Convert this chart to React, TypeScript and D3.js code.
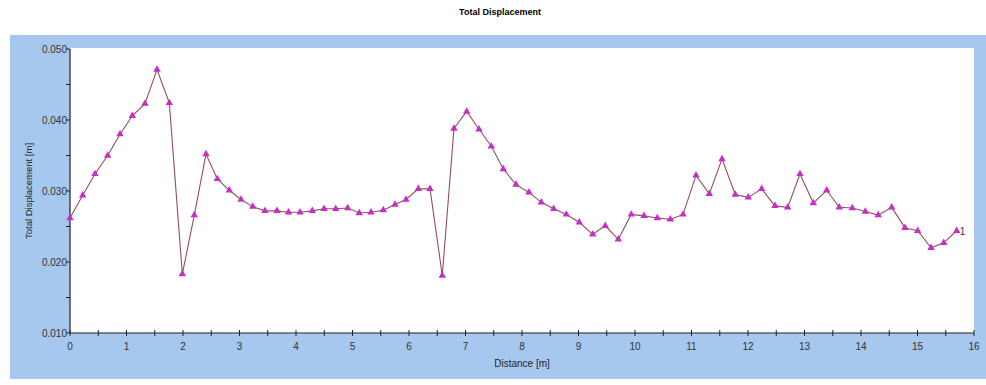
import React from "react";
import * as d3 from "d3";

// values
const distance = [
  0, 0.225, 0.442, 0.667, 0.885, 1.103, 1.327, 1.54, 1.758, 1.988,
  2.2, 2.407, 2.607, 2.82, 3.027, 3.234, 3.451, 3.664, 3.867, 4.071,
  4.288, 4.496, 4.703, 4.915, 5.12, 5.327, 5.545, 5.752, 5.947, 6.165,
  6.372, 6.589, 6.796, 7.021, 7.239, 7.457, 7.669, 7.894, 8.124, 8.342,
  8.561, 8.784, 9.014, 9.251, 9.474, 9.704, 9.934, 10.159, 10.395, 10.625,
  10.85, 11.08, 11.315, 11.54, 11.775, 12.005, 12.242, 12.478, 12.703, 12.92,
  13.156, 13.393, 13.616, 13.846, 14.076, 14.306, 14.543, 14.779, 15.004, 15.239,
  15.464, 15.694,
];
const displacement = [
  0.0262, 0.0294, 0.0324, 0.035, 0.038, 0.0406, 0.0423, 0.0471, 0.0424, 0.0183,
  0.0266, 0.0352, 0.0317, 0.0301, 0.0288, 0.0278, 0.0272, 0.0272, 0.027, 0.027,
  0.0272, 0.0275, 0.0275, 0.0276, 0.0269, 0.027, 0.0273, 0.0281, 0.0288, 0.0303,
  0.0303, 0.0181, 0.0388, 0.0412, 0.0387, 0.0363, 0.0331, 0.0309, 0.0298, 0.0284,
  0.0275, 0.0267, 0.0256, 0.0239, 0.0251, 0.0232, 0.0267, 0.0265, 0.0262, 0.026,
  0.0267, 0.0322, 0.0296, 0.0345, 0.0295, 0.0291, 0.0303, 0.0279, 0.0277, 0.0324,
  0.0283, 0.0301, 0.0277, 0.0276, 0.0271, 0.0266, 0.0277, 0.0248, 0.0244, 0.022,
  0.0227, 0.0244,
];
const xTickValues = [0, 1, 2, 3, 4, 5, 6, 7, 8, 9, 10, 11, 12, 13, 14, 15, 16];
const yTickValues = [0.01, 0.02, 0.03, 0.04, 0.05];
const seriesLabel = "1";

const W = 986;
const H = 385;
const PLOT = { left: 70, right: 974, top: 49, bottom: 333 };
const FONT = "'Liberation Sans', Arial, sans-serif";

export default function App() {
  const x = d3.scaleLinear().domain([0, 16]).range([PLOT.left, PLOT.right]);
  const y = d3.scaleLinear().domain([0.01, 0.05]).range([PLOT.bottom, PLOT.top]);

  const points = distance.map((d, i) => [d, displacement[i]] as [number, number]);
  const line = d3.line<[number, number]>().x(d => x(d[0])).y(d => y(d[1]));
  const tri = d3.symbol().type(d3.symbolTriangle).size(24)();

  const xMinor = d3.range(0.5, 16, 1);
  const yMinor = d3.range(0.015, 0.05, 0.01);
  const fmt = d3.format(".3f");
  const last = points[points.length - 1];

  return (
    <svg width={W} height={H} style={{ position: "absolute", left: 0, top: 0, background: "#fff" }}>
      <text x={500} y={15} textAnchor="middle" fontFamily={FONT} fontSize={9} fontWeight="bold" fill="#000">
        Total Displacement
      </text>
      <rect x={10} y={35} width={W - 10} height={344} fill="#a6c8ee" />
      <rect x={PLOT.left} y={PLOT.top - 1} width={PLOT.right - PLOT.left} height={PLOT.bottom - PLOT.top + 1} fill="#fff" />

      {/* axes */}
      <line x1={PLOT.left} x2={PLOT.left} y1={PLOT.top} y2={PLOT.bottom} stroke="#222" strokeWidth={1.2} />
      <line x1={PLOT.left} x2={PLOT.right} y1={PLOT.bottom} y2={PLOT.bottom} stroke="#222" strokeWidth={1.2} />

      {yTickValues.map(v => (
        <g key={"y" + v}>
          <line x1={PLOT.left - 4} x2={PLOT.left} y1={y(v)} y2={y(v)} stroke="#222" />
          <text x={PLOT.left - 3} y={y(v) + 3.5} textAnchor="end" fontFamily={FONT} fontSize={10} fill="#333">
            {fmt(v)}
          </text>
        </g>
      ))}
      {yMinor.map(v => (
        <line key={"ym" + v} x1={PLOT.left - 4} x2={PLOT.left} y1={y(v)} y2={y(v)} stroke="#222" />
      ))}
      {xTickValues.map(v => (
        <g key={"x" + v}>
          <line x1={x(v)} x2={x(v)} y1={PLOT.bottom - 3} y2={PLOT.bottom + 3} stroke="#222" />
          <text x={x(v)} y={PLOT.bottom + 17} textAnchor="middle" fontFamily={FONT} fontSize={10} fill="#333">
            {v}
          </text>
        </g>
      ))}
      {xMinor.map(v => (
        <line key={"xm" + v} x1={x(v)} x2={x(v)} y1={PLOT.bottom - 3} y2={PLOT.bottom + 3} stroke="#222" />
      ))}

      <text x={(PLOT.left + PLOT.right) / 2} y={PLOT.bottom + 34} textAnchor="middle" fontFamily={FONT} fontSize={10} fill="#222">
        Distance [m]
      </text>
      <text
        transform={`translate(${32},${(PLOT.top + PLOT.bottom) / 2}) rotate(-90)`}
        textAnchor="middle"
        fontFamily={FONT}
        fontSize={9.5}
        fill="#222"
      >
        Total Displacement [m]
      </text>

      {/* series */}
      <path d={line(points) || ""} fill="none" stroke="#9a4e58" strokeWidth={1.1} />
      {points.map((p, i) => (
        <path key={i} d={tri || ""} transform={`translate(${x(p[0])},${y(p[1])})`} fill="#c62fc6" />
      ))}
      <text x={x(last[0]) + 3} y={y(last[1]) + 4} fontFamily={FONT} fontSize={10} fill="#333">
        {seriesLabel}
      </text>
    </svg>
  );
}
